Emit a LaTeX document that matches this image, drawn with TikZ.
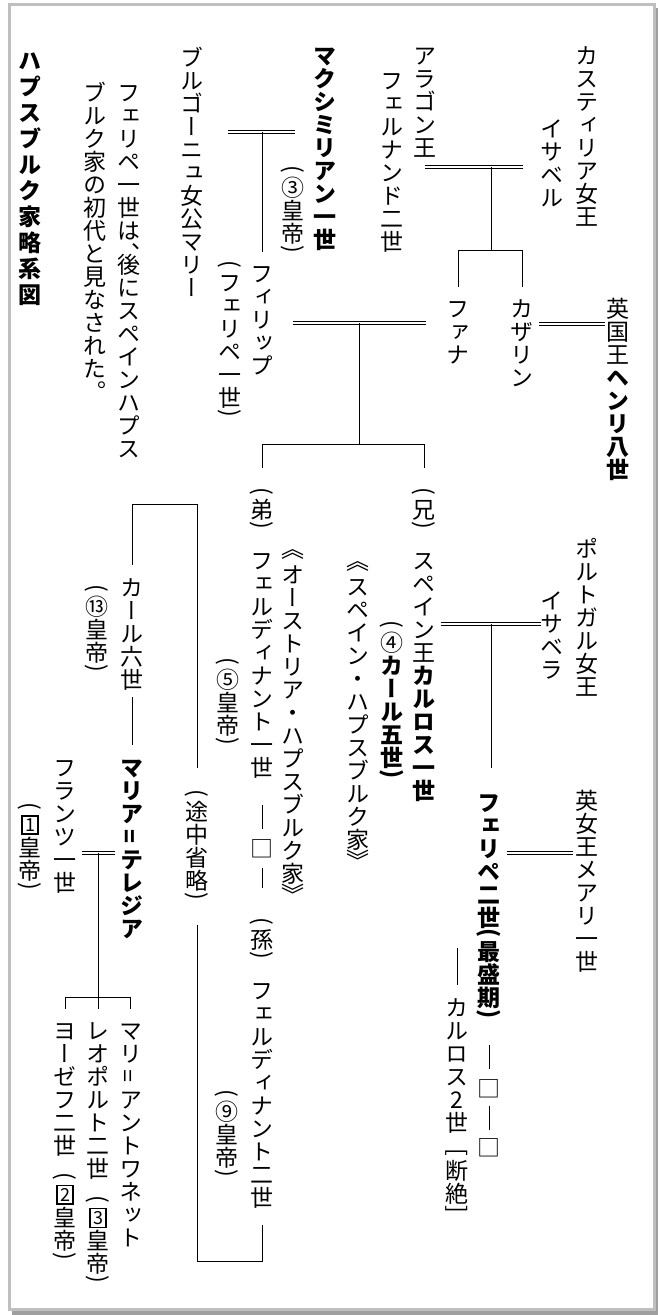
\documentclass[tikz,border=0pt]{standalone}
\usepackage{fontspec}
\usepackage{graphicx}
\newfontfamily\jp[RawFeature=+vert]{Noto Sans CJK JP}
\newfontfamily\jph{Noto Sans CJK JP}
\ExplSyntaxOn
\dim_new:N \l__vt_pitch_dim
\cs_new_protected:Npn \__vt_strut: { \vrule height .88em depth .12em width 0pt }
\cs_new_protected:Npn \__vt_slot:nn #1#2
  {
    \hbox_to_wd:nn { 1em }
      { \hss \vbox_to_ht:nn { #1 \l__vt_pitch_dim } { \vss \hbox:n {#2} \vss } \hss }
  }
\cs_new_protected:Npn \__vt_topslot:nn #1#2
  {
    \hbox_to_wd:nn { 1em }
      { \hss \vbox_to_ht:nn { #1 \l__vt_pitch_dim } { \hbox:n {#2} \vss } \hss }
  }
\cs_new_protected:Npn \__vt_item:n #1
  {
    \tl_if_single_token:nTF {#1}
      { \token_if_cs:NTF #1 {#1} { \__vt_slot:nn {1} { \__vt_strut: #1 } } }
      {#1}
  }
\NewDocumentCommand \vt { O{1} m }
  {
    \vbox:n
      {
        \offinterlineskip
        \dim_set:Nn \l__vt_pitch_dim { #1 em }
        \tl_map_inline:nn {#2} { \__vt_item:n {##1} }
      }
  }
\NewDocumentCommand \vLp {} { \__vt_slot:nn {0.5} { \rotatebox[origin=c]{-90}{\jph (} } }
\NewDocumentCommand \vRp {} { \__vt_slot:nn {0.5} { \rotatebox[origin=c]{-90}{\jph )} } }
\NewDocumentCommand \vSp { m } { \__vt_slot:nn {#1} {} }
\NewDocumentCommand \vGap {} { \__vt_slot:nn {0.7} {} }
\NewDocumentCommand \vBf {} { \bfseries }
\NewDocumentCommand \vEq {} { \__vt_slot:nn {1} { \rotatebox[origin=c]{90}{\jph =} } }
\NewDocumentCommand \vBx { m } { \__vt_slot:nn {1} { \fboxsep=1pt \fboxrule=0.9pt \fbox{\fontsize{9pt}{9pt}\selectfont \jph #1} } }
\NewDocumentCommand \vHc { m } { \__vt_topslot:nn {0.5} { \__vt_strut: #1 } }
\NewDocumentCommand \vHb { m } { \__vt_slot:nn {0.5} { \rotatebox[origin=c]{-90}{\jph #1} } }
\NewDocumentCommand \vAg { m } { \__vt_slot:nn {0.75} {#1} }
\ExplSyntaxOff
\begin{document}
\begin{tikzpicture}[x=0.5pt,y=-0.5pt,
  vn/.style={inner sep=0pt, outer sep=0pt, anchor=north, font=\jp\fontsize{11.5pt}{11.5pt}\selectfont},
  sq/.style={inner sep=0pt, outer sep=0pt, font=\jp\fontsize{11.5pt}{11.5pt}\selectfont},
  ln/.style={line width=0.5pt, black},
  marr/.style={double, double distance=1pt, line width=0.5pt}]
\useasboundingbox (0,0) rectangle (658,1315);
\fill[white] (0,0) rectangle (658,1315);
\fill[gray!75] (12,1310) rectangle (658,1315);
\fill[gray!75] (655,8) rectangle (658,1315);
\draw[gray!50, line width=1.5pt] (9,5) rectangle (654.5,1309.5);
% nodes
\node[vn] (castile) at (587,44) {\vt{カスティリア女王}};
\node[vn] (isabel) at (552,117) {\vt{イサベル}};
\node[vn] (aragon) at (425,44) {\vt{アラゴン王}};
\node[vn] (ferd) at (392,69) {\vt{フェルナンド二世}};
\node[vn] (juana) at (458,297) {\vt{ファナ}};
\node[vn] (cath) at (522,297) {\vt{カザリン}};
\node[vn] (henry) at (618,297) {\vt{英国王\vBf ヘンリ八世}};
\node[vn] (maxi) at (325,44) {\vt{\vBf マクシミリアン一世}};
\node[vn] (maxe) at (293,165) {\vt{\vLp ③皇帝\vRp}};
\node[vn] (phil) at (262,262) {\vt{フィリップ}};
\node[vn] (phile) at (230,260) {\vt{\vLp フェリペ一世\vRp}};
\node[vn] (mary) at (192,46) {\vt{ブルゴーニュ女公マリー}};
\node[vn] (note1) at (129,81) {\vt{フェリペ一世は{\vHc 、}後にスペインハプス}};
\node[vn] (note2) at (95,81) {\vt{ブルク家の初代と見なされた{\vHc 。}}};
\node[vn] (title) at (30,48) {\vt[1.13]{\vBf ハプスブルク家略系図}};
\node[vn] (elder) at (424,487) {\vt{\vLp 兄\vRp\vGap スペイン王\vBf カルロス一世}};
\node[vn] (spainh) at (358,558) {\vt{{\vAg 《}スペイン・ハプスブルク家{\vAg 》}}};
\node[vn] (portugal) at (587,537) {\vt{ポルトガル女王}};
\node[vn] (isabella) at (552,589) {\vt{イサベラ}};
\node[vn] (karl5) at (392,620) {\vt{\vLp ④\vBf カール五世\vRp}};
\node[vn] (philip2) at (489,791) {\vt{\vBf フェリペ二世\vLp 最盛期\vRp}};
\node[vn] (maryt) at (587,789) {\vt{英女王メアリ一世}};
\node[sq] (sq1) at (489,1088.5) {□};
\node[sq] (sq2) at (489,1147.5) {□};
\node[vn] (carlos2) at (457,996) {\vt{カルロス2世{\vSp{0.6}}{\vHb[}断絶{\vHb]}}};
\node[vn] (younger) at (262,487) {\vt{\vLp 弟\vRp\vGap フェルディナント一世}};
\node[vn] (austria) at (293,546) {\vt{{\vAg 《}オーストリア・ハプスブルク家{\vAg 》}}};
\node[vn] (f1e) at (228,657) {\vt{\vLp ⑤皇帝\vRp}};
\node[sq] (sq3) at (262,848.5) {□};
\node[vn] (grand) at (262,917) {\vt{\vLp 孫\vRp\vGap フェルディナント二世}};
\node[vn] (f2e) at (227,1089) {\vt{\vLp ⑨皇帝\vRp}};
\node[vn] (omit) at (197,789) {\vt{\vLp 途中省略\vRp}};
\node[vn] (karl6) at (132,576) {\vt{カール六世}};
\node[vn] (karl6e) at (97,584) {\vt{\vLp ⑬皇帝\vRp}};
\node[vn] (mt) at (132,756) {\vt{\vBf マリア\vEq テレジア}};
\node[vn] (franz) at (65,756) {\vt{フランツ一世}};
\node[vn] (franze) at (30,802) {\vt{\vLp{\vBx 1}皇帝\vRp}};
\node[vn] (ma) at (130.5,1019) {\vt{マリ\vEq アントワネット}};
\node[vn] (leo) at (98,1019) {\vt{レオポルト二世{\vSp{0.65}}\vLp{\vBx 3}皇帝\vRp}};
\node[vn] (jos) at (65,1019) {\vt{ヨーゼフ二世{\vSp{0.65}}\vLp{\vBx 2}皇帝\vRp}};
% coordinates
\coordinate (j1) at (491,167.5);
\coordinate (b1) at (491,251);
\coordinate (j2) at (572,324.5);
\coordinate (j3) at (359,323.5);
\coordinate (b3) at (359,444);
\coordinate (j4) at (262,132.5);
\coordinate (j5) at (491,624);
\coordinate (j6) at (540,852.5);
\coordinate (c2) at (457,948);
\coordinate (lowbar) at (0,1261);
\coordinate (topbar) at (0,504);
\coordinate (j7) at (98,852.5);
\coordinate (b7) at (98,997);
% connectors
\draw[marr, shorten >=8.75pt] (aragon.south |- j1) -- (isabel.west |- j1);
\draw[ln] (j1) -- (b1);
\draw[ln, shorten >=5pt] (b1) -| (juana.north);
\draw[ln, shorten >=5pt] (b1) -| (cath.north);
\draw[marr, shorten <=2.75pt, shorten >=0.75pt] (cath.east |- j2) -- (henry.west |- j2);
\draw[marr, shorten <=9.75pt, shorten >=10.25pt] (phil.east |- j3) -- (juana.west |- j3);
\draw[ln] (j3) -- (b3);
\draw[ln, shorten >=9.5pt] (b3) -| (younger.north);
\draw[ln, shorten >=9.5pt] (b3) -| (elder.north);
\draw[marr, shorten <=12.25pt, shorten >=9.25pt] (mary.east |- j4) -- (maxi.west |- j4);
\draw[ln, shorten >=5pt] (j4) -- (phil.north);
\draw[marr, shorten <=2.75pt] (elder.east |- j5) -- (isabella.west |- j5);
\draw[ln, shorten >=11.5pt] (j5) -- (j5 |- philip2.north);
\draw[marr, shorten <=3.25pt, shorten >=1.25pt] (philip2.east |- j6) -- (maryt.west |- j6);
\draw[ln, shorten <=12pt, shorten >=5pt] (philip2.south) -- (sq1.north);
\draw[ln, shorten <=4pt, shorten >=4pt] (sq1.south) -- (sq2.north);
\draw[ln, shorten >=5.5pt] (c2) -- (carlos2.north);
\draw[ln, shorten <=13pt, shorten >=5pt] (younger.south) -- (sq3.north);
\draw[ln, shorten <=5pt, shorten >=14.5pt] (sq3.south) -- (grand.north);
\draw[ln, shorten <=8pt, shorten >=10.5pt] (grand.south) -- (grand.south |- lowbar) -| (omit.south);
\draw[ln, shorten <=10.5pt, shorten >=5.5pt] (omit.north) -- (omit.north |- topbar) -| (karl6.north);
\draw[ln, shorten <=3pt, shorten >=5.5pt] (karl6.south) -- (mt.north);
\draw[marr, shorten <=2.75pt, shorten >=2.75pt] (franz.east |- j7) -- (mt.west |- j7);
\draw[ln] (j7) -- (b7);
\draw[ln, shorten >=5pt] (b7) -| (jos.north);
\draw[ln, shorten >=5pt] (b7) -- (b7 |- leo.north);
\draw[ln, shorten >=5pt] (b7) -| (ma.north);
\end{tikzpicture}
\end{document}
